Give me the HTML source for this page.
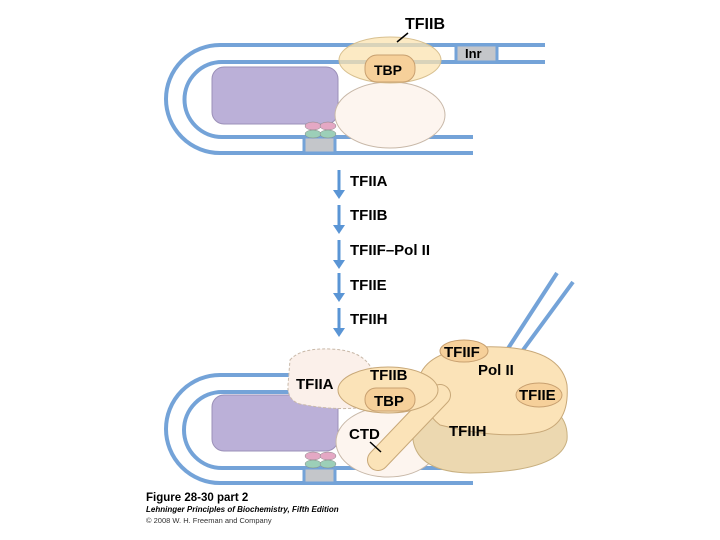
<!DOCTYPE html>
<html><head><style>body{margin:0;background:#fff}svg{display:block}text{font-family:"Liberation Sans",sans-serif}</style></head><body>
<svg width="720" height="540" viewBox="0 0 720 540" xmlns="http://www.w3.org/2000/svg">
<g fill="none" stroke="#74a3d8" stroke-width="4">
<path d="M545 45 H220 A54 54 0 0 0 220 153 H473"/>
<path d="M545 62 H222 A37 37 0 0 0 222 137 H473"/>
</g>
<rect x="456" y="45" width="41" height="17" fill="#c4c6ca" stroke="#74a3d8" stroke-width="3"/>
<text x="465" y="58" font-size="13" font-weight="bold">Inr</text>
<rect x="304" y="137" width="31" height="16" fill="#c4c6ca" stroke="#74a3d8" stroke-width="3"/>
<rect x="212" y="67" width="126" height="57" rx="12" fill="#bbb0d8" stroke="#9b90b8"/>
<ellipse cx="390" cy="115" rx="55" ry="33" fill="#fdf5ef" stroke="#c8b8a8"/>
<ellipse cx="390" cy="60" rx="51" ry="23" fill="#fbe3b0" fill-opacity="0.75" stroke="#d8c090"/>
<rect x="365" y="55" width="50" height="27" rx="12" fill="#f6d09a" stroke="#c8a070"/>
<text x="374" y="75" font-size="14" font-weight="bold">TBP</text>
<g stroke="#888" stroke-width="0.5"><ellipse cx="313" cy="126" rx="8" ry="4" fill="#e4a8c4"/><ellipse cx="328" cy="126" rx="8" ry="4" fill="#e4a8c4"/><ellipse cx="313" cy="134" rx="8" ry="4" fill="#9ccfb8"/><ellipse cx="328" cy="134" rx="8" ry="4" fill="#9ccfb8"/></g>
<line x1="397" y1="42" x2="408" y2="33" stroke="#000" stroke-width="1.5"/>
<text x="405" y="29" font-size="16" font-weight="bold">TFIIB</text>
<g stroke="#5a95d5" stroke-width="3" fill="#5a95d5">
<line x1="339" y1="170" x2="339" y2="192"/><path d="M333 190 L339 199 L345 190Z" stroke="none"/>
<line x1="339" y1="205" x2="339" y2="227"/><path d="M333 225 L339 234 L345 225Z" stroke="none"/>
<line x1="339" y1="240" x2="339" y2="262"/><path d="M333 260 L339 269 L345 260Z" stroke="none"/>
<line x1="339" y1="273" x2="339" y2="295"/><path d="M333 293 L339 302 L345 293Z" stroke="none"/>
<line x1="339" y1="308" x2="339" y2="330"/><path d="M333 328 L339 337 L345 328Z" stroke="none"/>
</g>
<g font-size="15" font-weight="bold">
<text x="350" y="186">TFIIA</text><text x="350" y="220">TFIIB</text><text x="350" y="255">TFIIF–Pol II</text><text x="350" y="290">TFIIE</text><text x="350" y="324">TFIIH</text>
</g>
<g fill="none" stroke="#74a3d8" stroke-width="4">
<path d="M295 375 H220 A54 54 0 0 0 220 483 H473"/>
<path d="M295 392 H222 A37 37 0 0 0 222 468 H473"/>
<line x1="507" y1="350" x2="557" y2="273"/><line x1="523" y1="350" x2="573" y2="282"/>
</g>
<rect x="304" y="468" width="31" height="15" fill="#c4c6ca" stroke="#74a3d8" stroke-width="3"/>
<rect x="212" y="395" width="126" height="56" rx="12" fill="#bbb0d8" stroke="#9b90b8"/>
<ellipse cx="388" cy="442" rx="52" ry="35" fill="#fdf5ef" stroke="#c8b8a8"/>
<path d="M290 360 Q300 348 330 349 Q365 350 373 372 L372 406 Q340 412 300 404 Q287 400 288 385Z" fill="#fbf0ea" stroke="#c8b8a8" stroke-dasharray="3,2"/>
<path d="M415 400 Q440 392 520 398 Q570 405 567 440 Q560 472 470 473 Q418 472 413 440Z" fill="#ecd8b0" stroke="#c8b080"/>
<path d="M420 375 Q430 350 480 347 Q560 344 567 385 Q570 425 540 432 Q500 440 440 425 Q420 410 420 375Z" fill="#fbe3b8" stroke="#c8a878"/>
<line x1="378" y1="460" x2="440" y2="395" stroke="#c8a878" stroke-width="22" stroke-linecap="round"/>
<line x1="378" y1="460" x2="440" y2="395" stroke="#fbe3b8" stroke-width="20" stroke-linecap="round"/>
<ellipse cx="388" cy="390" rx="50" ry="23" fill="#fbe3b8" stroke="#c8a878"/>
<rect x="365" y="388" width="50" height="23" rx="11" fill="#f6d09a" stroke="#c8a070"/>
<ellipse cx="464" cy="351" rx="24" ry="11" fill="#f6d09a" stroke="#c8a070"/>
<ellipse cx="539" cy="395" rx="23" ry="12" fill="#f6d09a" stroke="#c8a070"/>
<line x1="370" y1="442" x2="381" y2="452" stroke="#000" stroke-width="1.5"/>
<g font-size="15" font-weight="bold">
<text x="296" y="389">TFIIA</text><text x="370" y="380">TFIIB</text><text x="374" y="406">TBP</text>
<text x="444" y="357">TFIIF</text><text x="478" y="375">Pol II</text><text x="519" y="400">TFIIE</text>
<text x="449" y="436">TFIIH</text><text x="349" y="439">CTD</text>
</g>
<g stroke="#888" stroke-width="0.5"><ellipse cx="313" cy="456" rx="8" ry="4" fill="#e4a8c4"/><ellipse cx="328" cy="456" rx="8" ry="4" fill="#e4a8c4"/><ellipse cx="313" cy="464" rx="8" ry="4" fill="#9ccfb8"/><ellipse cx="328" cy="464" rx="8" ry="4" fill="#9ccfb8"/></g>
<text x="146" y="501" font-size="11.5" font-weight="bold">Figure 28-30 part 2</text>
<text x="146" y="512" font-size="8" font-weight="bold" font-style="italic">Lehninger Principles of Biochemistry, Fifth Edition</text>
<text x="146" y="523" font-size="7.5" fill="#333">© 2008 W. H. Freeman and Company</text>
</svg>
</body></html>
